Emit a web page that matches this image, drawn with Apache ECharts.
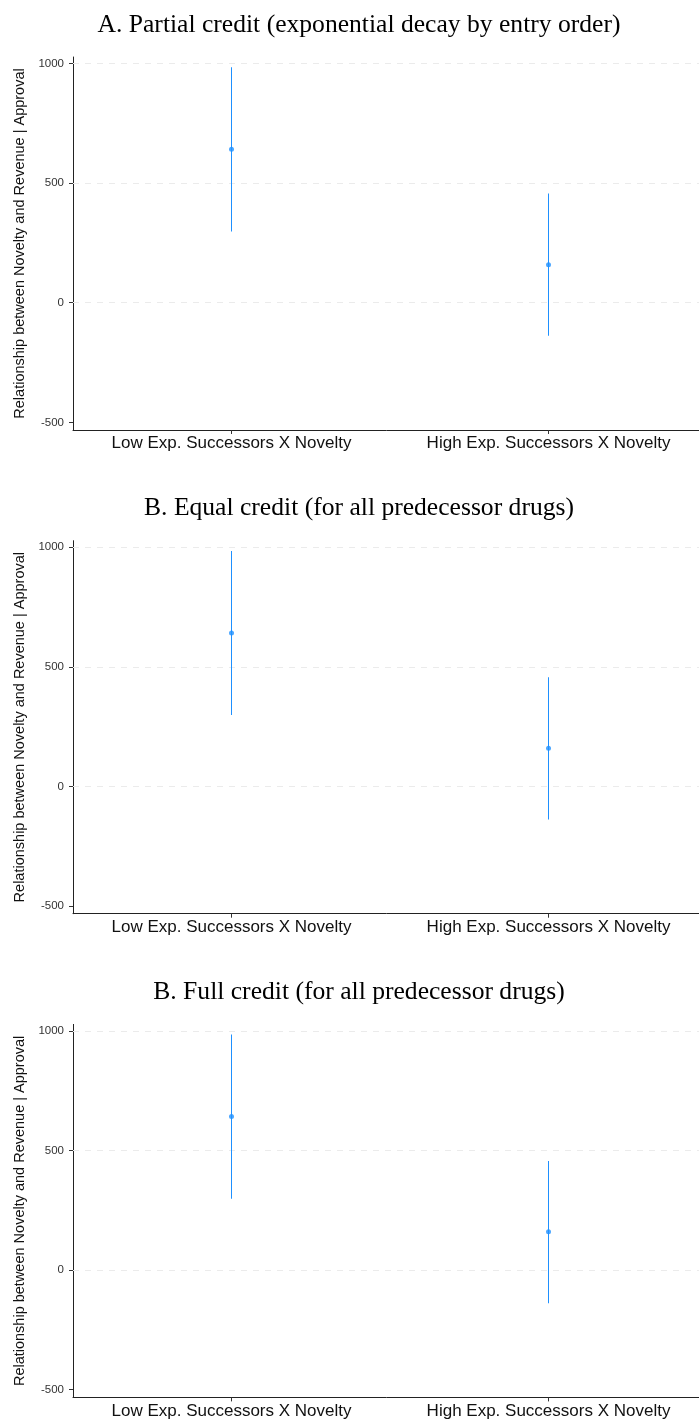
<!DOCTYPE html>
<html>
<head>
<meta charset="utf-8">
<style>
  html, body { margin: 0; padding: 0; background: #ffffff; }
  #chart { width: 699px; height: 1421px; }
</style>
<script src="https://cdn.jsdelivr.net/npm/echarts@6/dist/echarts.min.js"></script>
</head>
<body>
<div id="chart"></div>
<script>
// Coefficient estimates with confidence bounds, one panel per credit scheme
const categories = ['Low Exp. Successors X Novelty', 'High Exp. Successors X Novelty'];
const panelTitles = [
  'A. Partial credit (exponential decay by entry order)',
  'B. Equal credit (for all predecessor drugs)',
  'B. Full credit (for all predecessor drugs)'
];
const estimatesA = [641, 159];
const lowerA = [298, -138];
const upperA = [984, 456];
const estimatesB = [641, 159];
const lowerB = [298, -138];
const upperB = [984, 456];
const estimatesC = [642, 160];
const lowerC = [298, -138];
const upperC = [985, 456];
const yTicks = [-500, 0, 500, 1000];
const gridValues = [0, 500, 1000];
const yAxisName = 'Relationship between Novelty and Revenue | Approval';

const panels = [
  { est: estimatesA, lo: lowerA, hi: upperA },
  { est: estimatesB, lo: lowerB, hi: upperB },
  { est: estimatesC, lo: lowerC, hi: upperC }
];

const PANEL_STEP = 483.7;
const GRID_TOP = 57;
const GRID_HEIGHT = 373;
const BLUE = '#1E90FF';
const AXIS_FONT = '"Liberation Sans", Arial, sans-serif';

const chart = echarts.init(document.getElementById('chart'), null, { renderer: 'canvas' });

const option = {
  backgroundColor: '#ffffff',
  animation: false,
  title: panelTitles.map((t, i) => ({
    text: t,
    left: 359,
    textAlign: 'center',
    top: 12 + i * PANEL_STEP,
    padding: 0,
    textStyle: {
      fontFamily: '"Liberation Serif", "DejaVu Serif", serif',
      fontWeight: 'normal',
      fontSize: 25.6,
      color: '#000000'
    }
  })),
  // the plotting band runs a few pixels past the right edge of the page
  grid: panels.map((p, i) => ({
    left: 73,
    width: 634,
    top: GRID_TOP + i * PANEL_STEP,
    height: GRID_HEIGHT,
    outerBoundsMode: 'none',
    containLabel: false
  })),
  xAxis: panels.map((p, i) => ({
    type: 'category',
    gridIndex: i,
    data: categories,
    boundaryGap: true,
    axisLine: { show: true, onZero: false, lineStyle: { color: '#222222', width: 1 } },
    axisTick: { show: true, alignWithLabel: true, length: 4, lineStyle: { color: '#333333' } },
    axisLabel: {
      margin: 5,
      fontFamily: AXIS_FONT,
      fontSize: 17,
      color: '#111111',
      interval: 0
    },
    splitLine: { show: false }
  })),
  yAxis: panels.map((p, i) => ({
    type: 'value',
    gridIndex: i,
    min: -532,
    max: 1027,
    name: yAxisName,
    nameLocation: 'middle',
    nameGap: 42,
    nameRotate: 90,
    nameTextStyle: {
      fontFamily: AXIS_FONT,
      fontSize: 14.5,
      color: '#111111'
    },
    axisLine: { show: true, onZero: false, lineStyle: { color: '#222222', width: 1 } },
    axisTick: { show: true, length: 4, customValues: yTicks, lineStyle: { color: '#333333' } },
    axisLabel: {
      customValues: yTicks,
      formatter: v => String(v),
      margin: 9,
      fontFamily: AXIS_FONT,
      fontSize: 11.5,
      color: '#333333'
    },
    splitLine: { show: false }
  })),
  series: []
};

panels.forEach((p, i) => {
  // Point estimates, carrying the faint dashed reference lines underneath everything
  option.series.push({
    type: 'scatter',
    xAxisIndex: i,
    yAxisIndex: i,
    z: 8,
    silent: true,
    symbol: 'circle',
    symbolSize: 5,
    itemStyle: { color: BLUE },
    data: p.est,
    markLine: {
      z: 1,
      silent: true,
      symbol: 'none',
      label: { show: false },
      lineStyle: { type: [6, 6], color: '#ebebeb', width: 1 },
      data: gridValues.map(v => ({ yAxis: v }))
    }
  });
  // Interval lines (no caps), drawn as 1px-wide filled strips
  option.series.push({
    type: 'custom',
    xAxisIndex: i,
    yAxisIndex: i,
    z: 6,
    silent: true,
    itemStyle: { color: BLUE },
    data: categories.map((c, k) => [k, p.lo[k], p.hi[k]]),
    encode: { x: 0, y: [1, 2] },
    renderItem: function (params, api) {
      const k = api.value(0);
      const a = api.coord([k, api.value(1)]);
      const b = api.coord([k, api.value(2)]);
      return {
        type: 'rect',
        shape: { x: a[0] - 0.5, y: b[1], width: 1, height: a[1] - b[1] },
        style: { fill: BLUE, stroke: null }
      };
    }
  });
});

chart.setOption(option);
</script>
</body>
</html>
